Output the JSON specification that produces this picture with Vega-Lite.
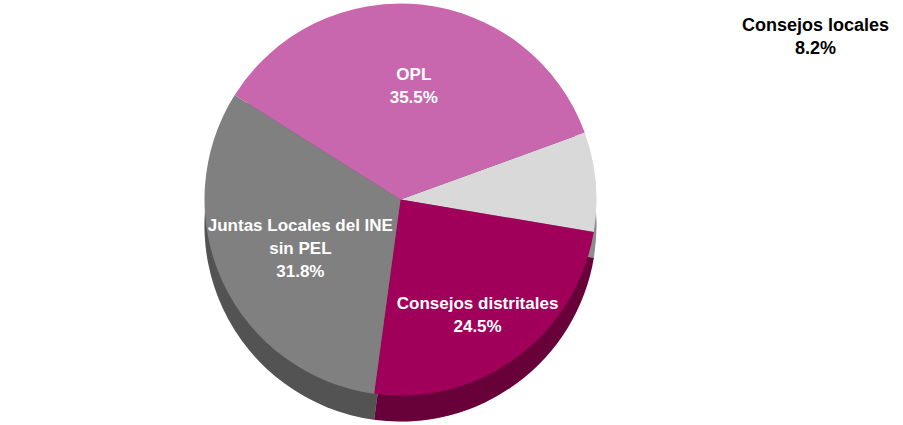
{
  "$schema": "https://vega.github.io/schema/vega-lite/v6.json",
  "width": 903,
  "height": 425,
  "padding": 0,
  "autosize": {"type": "none"},
  "background": "white",
  "view": {"stroke": null},
  "config": {"text": {"font": "Liberation Sans", "fontWeight": "bold", "fontSize": 17, "lineHeight": 23}},
  "data": {
    "values": [
      {"category": "Consejos locales", "value": 8.2, "order": 1, "lines": ["Consejos locales", "8.2%"]},
      {"category": "Consejos distritales", "value": 24.5, "order": 2, "lines": ["Consejos distritales", "24.5%"]},
      {"category": "Juntas Locales del INE sin PEL", "value": 31.8, "order": 3, "lines": ["Juntas Locales del INE", "sin PEL", "31.8%"]},
      {"category": "OPL", "value": 35.5, "order": 4, "lines": ["OPL", "35.5%"]}
    ]
  },
  "encoding": {
    "theta": {"field": "value", "type": "quantitative", "stack": true, "scale": {"range": [1.222, 7.505]}},
    "order": {"field": "order", "type": "quantitative"}
  },
  "layer": [
    {
      "mark": {"type": "arc", "outerRadius": 196, "xOffset": -51, "yOffset": 13},
      "encoding": {
        "color": {"field": "category", "type": "nominal", "legend": null,
          "scale": {"domain": ["Consejos locales", "Consejos distritales", "Juntas Locales del INE sin PEL", "OPL"],
                    "range": ["#D9D9D9", "#A0005A", "#808080", "#C867AE"]}}
      }
    },
    {
      "mark": {"type": "arc", "outerRadius": 196, "xOffset": -51, "yOffset": 13, "opacity": 0.35},
      "encoding": {"color": {"value": "#000000"}}
    },
    {
      "mark": {"type": "arc", "outerRadius": 196, "xOffset": -51, "yOffset": -13},
      "encoding": {
        "color": {"field": "category", "type": "nominal", "legend": null}
      }
    },
    {
      "mark": {"type": "text", "radius": 125, "xOffset": -51, "yOffset": -13, "color": "white"},
      "encoding": {"text": {"condition": {"test": "datum.order == 4", "field": "lines"}, "value": ""}}
    },
    {
      "mark": {"type": "text", "radius": 105, "xOffset": -51, "yOffset": -13, "dx": -5, "dy": -18, "color": "white"},
      "encoding": {"text": {"condition": {"test": "datum.order == 3", "field": "lines"}, "value": ""}}
    },
    {
      "mark": {"type": "text", "radius": 130, "xOffset": -51, "yOffset": -13, "color": "white"},
      "encoding": {"text": {"condition": {"test": "datum.order == 2", "field": "lines"}, "value": ""}}
    },
    {
      "mark": {"type": "text", "radius": 250, "xOffset": -51, "yOffset": -13, "dx": 166, "dy": -151, "fontSize": 18, "color": "black"},
      "encoding": {"text": {"condition": {"test": "datum.order == 1", "field": "lines"}, "value": ""}}
    }
  ]
}
